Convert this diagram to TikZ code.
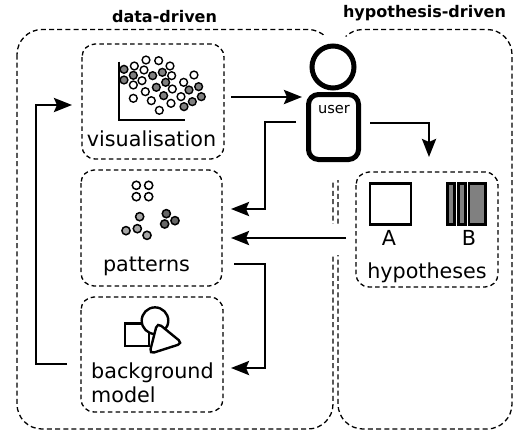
\documentclass[tikz,border=0pt]{standalone}
\usepackage{fontspec}
\setmainfont{DejaVu Sans}
\usetikzlibrary{arrows.meta}
\tikzset{
  x=1pt,y=-1pt,
  outerbox/.style={draw=black,line width=1.3pt,dash pattern=on 5pt off 3.2pt,rounded corners=25pt},
  innerbox/.style={draw=black,line width=1.3pt,dash pattern=on 4.5pt off 3.2pt,rounded corners=13pt},
  flow/.style={draw=black,line width=2.8pt,-{Stealth[length=18pt,width=14pt,inset=3pt]}},
  lbl/.style={font=\fontsize{20.7}{24}\selectfont,inner sep=0pt,text=black},
  head/.style={font=\bfseries\fontsize{16}{18}\selectfont,inner sep=0pt,anchor=base},
  wdot/.style={draw=black,fill=white,line width=1.4pt},
  gdot/.style={draw=black,fill=black!50,line width=1.4pt},
  ldot/.style={draw=black,fill=black!35,line width=1.5pt},
  ddot/.style={draw=black,fill=black!60,line width=1.5pt},
  sym/.style={draw=black,fill=white,line width=2.4pt},
  gap/.style={fill=white,draw=none},
}
\begin{document}
\begin{tikzpicture}
\useasboundingbox (0,0) rectangle (513,431);
% outer regions
\draw[outerbox] (17,29.5) rectangle (333,429);
\draw[outerbox] (338,29.5) rectangle (512,429);
% white gaps around the user and the arrow crossing
\fill[gap] (333,67) circle[radius=33];
\fill[gap] (318,90) rectangle (352,180);
\fill[gap] (328,224) rectangle (343,255);
\node[head] (dd) at (164.5,22.5) {data-driven};
\node[head] (hd) at (424.5,17.5) {hypothesis-driven};
% inner boxes
\draw[innerbox] (82,44) rectangle (224,159);
\draw[innerbox] (81,170) rectangle (222,286);
\draw[innerbox] (81,297) rectangle (223,412);
\draw[innerbox] (356,172) rectangle (498,287);
% labels
\node[lbl] (vis) at (151.5,139) {visualisation};
\node[lbl] (pat) at (146.5,266) {patterns};
\node[lbl,align=left,anchor=west] (bg) at (91,383) {background\\model};
\node[lbl] (hyp) at (427,273) {hypotheses};
% scatter
\begin{scope}[shift={(70,30)},x=0.3333pt,y=-0.3333pt]
\draw[line width=1.5pt] (147,95) -- (147,270) -- (345,270);
\foreach \a/\b in {228/90,266/92,300/108,193/108,222/120,305/137,190/165,216/152,372/135,341/157,333/200,307/177,226/185,244/212,190/205,303/220,268/241}
  \draw[wdot] (\a,\b) circle[radius=3.9pt];
\foreach \a/\b in {162/118,190/136,162/150,248/137,277/127,287/157,259/172,357/180,386/170,281/197,394/200,367/215,342/230}
  \draw[gdot] (\a,\b) circle[radius=3.9pt];
\end{scope}
% patterns
\begin{scope}[shift={(70,165)},x=0.3333pt,y=-0.3333pt]
\foreach \a/\b in {199/61,236/61,199/95,236/95}
  \draw[wdot,line width=1.5pt] (\a,\b) circle[radius=4.1pt];
\foreach \a/\b in {209/155,168/197,202/191,231/211}
  \draw[ldot] (\a,\b) circle[radius=4.1pt];
\foreach \a/\b in {289/146,315/167,284/177}
  \draw[ddot] (\a,\b) circle[radius=4.1pt];
\end{scope}
% model symbols
\begin{scope}[shift={(70,290)},x=0.3333pt,y=-0.3333pt]
\draw[sym] (165,100) rectangle (237,168);
\draw[sym] (255,92) circle[radius=13.3pt];
\draw[sym,rounded corners=5pt] (262,98) -- (338,160) -- (238,192) -- cycle;
\end{scope}
% hypotheses symbols
\begin{scope}[shift={(320,165)},x=0.3333pt,y=-0.3333pt]
\draw[sym,line width=2.6pt] (150,55) rectangle (273,178);
\foreach \a/\b in {383/403,415/436,447/497}
  \draw[sym,fill=black!50] (\a,55) rectangle (\b,178);
\node[lbl] (la) at (207,218) {A};
\node[lbl] (lb) at (447,218) {B};
\end{scope}
% user
\draw[draw=black,fill=white,line width=5pt] (333,67) circle[radius=21];
\draw[draw=black,fill=white,line width=5pt,rounded corners=10pt] (308.5,94.5) rectangle (358.5,159.5);
\node[font=\fontsize{14.6}{16}\selectfont,inner sep=0pt] (usr) at (334,110) {user};
% connectors
\coordinate (v1) at (231,97);\coordinate (u1) at (302,97);
\coordinate (u2) at (370,123);\coordinate (h1) at (429,157);
\coordinate (u3) at (296,122);\coordinate (p1) at (231,209);
\coordinate (h2) at (346,238);\coordinate (p2) at (231,238);
\coordinate (p3) at (234,264);\coordinate (m1) at (231,368);
\coordinate (m2) at (67,364);\coordinate (v2) at (72,105);
\draw[flow] (v1) -- (u1);
\draw[flow] (u2) -| (h1);
\draw[flow] (u3) -- (265,122) -- (265,209) -- (p1);
\draw[flow] (h2) -- (p2);
\draw[flow] (p3) -- (265,264) -- (265,368) -- (m1);
\draw[flow] (m2) -- (36,364) -- (36,105) -- (v2);
\end{tikzpicture}
\end{document}
